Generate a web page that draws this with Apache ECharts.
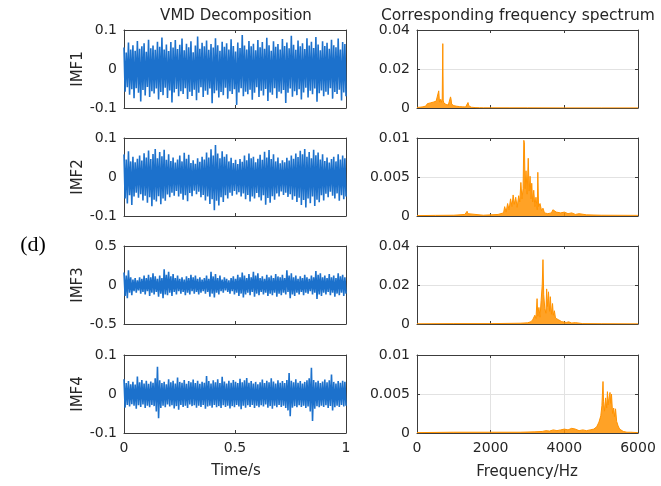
<!DOCTYPE html>
<html>
<head>
<meta charset="utf-8">
<script src="https://cdn.jsdelivr.net/npm/echarts@6/dist/echarts.min.js"></script>
<style>
  html, body { margin: 0; padding: 0; background: #fff; }
  #chart { width: 661px; height: 486px; }
</style>
</head>
<body>
<div id="chart"></div>
<script>
// IMF signals: upper / lower envelope (interleaved to draw the dense trace)
var imf1Up = [0.055,0.042,0.068,0.05,0.061,0.047,0.072,0.052,0.058,0.066,0.044,0.075,0.053,0.06,0.049,0.07,0.057,0.081,0.05,0.063,0.046,0.069,0.055,0.074,0.051,0.062,0.078,0.048,0.065,0.056,0.071,0.043,0.06,0.083,0.052,0.067,0.058,0.073,0.049,0.064,0.055,0.079,0.061,0.047,0.07,0.057,0.066,0.05,0.076,0.059,0.045,0.068,0.054,0.087,0.06,0.05,0.072,0.058,0.065,0.048,0.074,0.056,0.069,0.052,0.08,0.061,0.047,0.071,0.057,0.064,0.05,0.077,0.059,0.068,0.053,0.085,0.062,0.049,0.073,0.058,0.066,0.051,0.079,0.06,0.07,0.054,0.082,0.063,0.048,0.071,0.059,0.067,0.052,0.075,0.061,0.056,0.078,0.05,0.069,0.064];
var imf1Lo = [-0.058,-0.047,-0.066,-0.052,-0.075,-0.049,-0.061,-0.083,-0.054,-0.068,-0.046,-0.072,-0.057,-0.063,-0.05,-0.078,-0.059,-0.067,-0.048,-0.074,-0.055,-0.086,-0.06,-0.051,-0.07,-0.057,-0.064,-0.049,-0.077,-0.058,-0.069,-0.053,-0.08,-0.061,-0.047,-0.072,-0.056,-0.066,-0.05,-0.088,-0.062,-0.055,-0.073,-0.059,-0.067,-0.048,-0.076,-0.057,-0.064,-0.052,-0.092,-0.06,-0.049,-0.07,-0.058,-0.065,-0.053,-0.079,-0.061,-0.047,-0.072,-0.056,-0.068,-0.051,-0.082,-0.06,-0.066,-0.049,-0.075,-0.058,-0.063,-0.054,-0.087,-0.061,-0.05,-0.071,-0.057,-0.067,-0.052,-0.078,-0.06,-0.048,-0.073,-0.056,-0.065,-0.05,-0.084,-0.062,-0.055,-0.07,-0.058,-0.066,-0.049,-0.076,-0.059,-0.064,-0.053,-0.081,-0.06,-0.07];

var imf2Up = [0.058,0.045,0.066,0.04,0.052,0.038,0.047,0.055,0.042,0.061,0.05,0.068,0.046,0.059,0.072,0.048,0.064,0.053,0.07,0.044,0.058,0.041,0.05,0.037,0.045,0.055,0.04,0.062,0.047,0.057,0.036,0.043,0.034,0.048,0.039,0.052,0.045,0.063,0.05,0.071,0.055,0.082,0.06,0.048,0.066,0.052,0.058,0.04,0.049,0.036,0.044,0.033,0.046,0.039,0.055,0.043,0.06,0.048,0.052,0.038,0.047,0.057,0.044,0.065,0.05,0.069,0.046,0.058,0.04,0.05,0.035,0.043,0.038,0.049,0.042,0.055,0.047,0.06,0.051,0.067,0.058,0.072,0.052,0.064,0.048,0.07,0.056,0.063,0.045,0.058,0.041,0.05,0.037,0.046,0.052,0.04,0.058,0.045,0.055,0.048];
var imf2Lo = [-0.055,-0.068,-0.047,-0.072,-0.05,-0.04,-0.053,-0.044,-0.06,-0.048,-0.066,-0.052,-0.075,-0.058,-0.063,-0.049,-0.07,-0.055,-0.061,-0.045,-0.052,-0.04,-0.048,-0.036,-0.05,-0.043,-0.058,-0.047,-0.062,-0.041,-0.049,-0.035,-0.044,-0.038,-0.052,-0.046,-0.06,-0.05,-0.069,-0.057,-0.085,-0.061,-0.073,-0.052,-0.064,-0.047,-0.055,-0.04,-0.048,-0.036,-0.045,-0.039,-0.05,-0.042,-0.057,-0.046,-0.063,-0.05,-0.055,-0.041,-0.052,-0.06,-0.047,-0.071,-0.054,-0.066,-0.049,-0.058,-0.042,-0.05,-0.037,-0.046,-0.04,-0.051,-0.044,-0.058,-0.049,-0.064,-0.053,-0.072,-0.059,-0.078,-0.055,-0.067,-0.05,-0.074,-0.058,-0.065,-0.047,-0.06,-0.043,-0.052,-0.038,-0.048,-0.055,-0.042,-0.061,-0.047,-0.057,-0.05];

var imf3Up = [0.16,0.12,0.19,0.1,0.07,0.09,0.06,0.1,0.08,0.12,0.09,0.13,0.1,0.15,0.11,0.08,0.12,0.09,0.2,0.13,0.17,0.11,0.14,0.09,0.12,0.08,0.1,0.07,0.11,0.09,0.13,0.1,0.12,0.08,0.1,0.07,0.09,0.12,0.08,0.17,0.11,0.14,0.09,0.12,0.07,0.1,0.08,0.06,0.09,0.11,0.08,0.13,0.1,0.16,0.12,0.09,0.14,0.1,0.17,0.12,0.15,0.09,0.11,0.08,0.13,0.1,0.12,0.09,0.14,0.11,0.1,0.13,0.09,0.19,0.12,0.15,0.1,0.12,0.08,0.11,0.09,0.13,0.1,0.08,0.12,0.1,0.18,0.13,0.15,0.1,0.12,0.09,0.14,0.1,0.12,0.09,0.15,0.11,0.13,0.1];
var imf3Lo = [-0.14,-0.17,-0.1,-0.13,-0.08,-0.1,-0.07,-0.11,-0.09,-0.12,-0.08,-0.14,-0.1,-0.12,-0.09,-0.15,-0.11,-0.17,-0.12,-0.13,-0.1,-0.14,-0.09,-0.12,-0.08,-0.11,-0.09,-0.13,-0.1,-0.12,-0.08,-0.11,-0.09,-0.12,-0.1,-0.08,-0.11,-0.09,-0.15,-0.11,-0.16,-0.1,-0.12,-0.08,-0.1,-0.07,-0.09,-0.11,-0.08,-0.12,-0.1,-0.14,-0.11,-0.16,-0.12,-0.1,-0.13,-0.09,-0.15,-0.11,-0.13,-0.09,-0.12,-0.1,-0.14,-0.11,-0.13,-0.1,-0.15,-0.11,-0.13,-0.1,-0.12,-0.09,-0.17,-0.12,-0.14,-0.1,-0.12,-0.09,-0.13,-0.1,-0.11,-0.08,-0.12,-0.1,-0.18,-0.12,-0.14,-0.1,-0.12,-0.09,-0.13,-0.1,-0.15,-0.11,-0.13,-0.1,-0.14,-0.11];

var imf4Up = [0.038,0.028,0.033,0.025,0.031,0.024,0.045,0.03,0.036,0.027,0.034,0.026,0.032,0.029,0.04,0.07,0.035,0.028,0.031,0.025,0.038,0.03,0.034,0.027,0.042,0.031,0.029,0.036,0.026,0.033,0.03,0.037,0.028,0.034,0.026,0.031,0.029,0.046,0.033,0.027,0.035,0.03,0.038,0.028,0.044,0.032,0.027,0.034,0.029,0.036,0.031,0.028,0.039,0.03,0.035,0.041,0.029,0.033,0.027,0.031,0.025,0.03,0.037,0.028,0.034,0.03,0.04,0.032,0.027,0.035,0.029,0.033,0.028,0.036,0.054,0.034,0.03,0.038,0.029,0.033,0.027,0.031,0.035,0.04,0.067,0.036,0.03,0.034,0.028,0.032,0.037,0.03,0.035,0.05,0.031,0.027,0.033,0.029,0.034,0.031];
var imf4Lo = [-0.035,-0.028,-0.032,-0.026,-0.03,-0.038,-0.029,-0.033,-0.027,-0.036,-0.03,-0.034,-0.028,-0.031,-0.045,-0.062,-0.036,-0.03,-0.034,-0.027,-0.032,-0.029,-0.037,-0.031,-0.04,-0.028,-0.033,-0.03,-0.036,-0.027,-0.031,-0.029,-0.035,-0.03,-0.033,-0.028,-0.038,-0.032,-0.03,-0.035,-0.028,-0.034,-0.031,-0.036,-0.029,-0.033,-0.03,-0.037,-0.031,-0.034,-0.028,-0.032,-0.039,-0.03,-0.035,-0.029,-0.033,-0.028,-0.036,-0.03,-0.034,-0.029,-0.032,-0.027,-0.035,-0.031,-0.038,-0.03,-0.034,-0.028,-0.033,-0.03,-0.036,-0.042,-0.057,-0.035,-0.031,-0.034,-0.029,-0.033,-0.03,-0.036,-0.032,-0.045,-0.069,-0.038,-0.031,-0.034,-0.03,-0.033,-0.029,-0.036,-0.031,-0.042,-0.034,-0.03,-0.033,-0.028,-0.032,-0.03];

// spectra: frequency (Hz) and amplitude
var spec1Freq = [0,40,80,120,160,200,240,280,320,360,400,440,480,520,560,590,610,630,660,685,700,712,730,760,790,820,850,880,910,925,940,970,1000,1040,1080,1120,1160,1200,1240,1280,1320,1360,1385,1405,1430,1470,1520,1600,1700,1800,2000,2500,3000,4000,5000,6000];
var spec1Amp = [0.0003,0.0008,0.0004,0.0012,0.0006,0.0015,0.001,0.0022,0.0014,0.0026,0.0018,0.003,0.002,0.0035,0.0025,0.0088,0.003,0.0045,0.0028,0.005,0.033,0.004,0.0025,0.0034,0.0018,0.0026,0.0015,0.0022,0.0057,0.0045,0.002,0.0028,0.0012,0.0018,0.0009,0.0014,0.0007,0.0011,0.0006,0.0009,0.0005,0.0008,0.0028,0.0012,0.0006,0.0004,0.0003,0.0002,0.00015,0.0001,0.0001,0.00008,0.00008,0.00006,0.00005,0.00005];

var spec2Freq = [0,500,1000,1300,1340,1360,1380,1420,1800,2200,2350,2380,2420,2460,2500,2540,2580,2610,2640,2680,2720,2760,2790,2820,2850,2880,2900,2915,2935,2960,2990,3020,3045,3070,3095,3115,3140,3170,3200,3230,3265,3280,3300,3340,3380,3420,3460,3500,3550,3600,3650,3690,3730,3780,3830,3900,4000,4100,4200,4300,4400,4600,5000,6000];
var spec2Amp = [0.00005,0.00008,0.0001,0.0002,0.0004,0.0006,0.0003,0.00015,0.0001,0.0002,0.0004,0.0012,0.0005,0.0016,0.0008,0.0022,0.0012,0.0027,0.0015,0.0024,0.0011,0.0026,0.0018,0.0043,0.0022,0.0035,0.0097,0.0094,0.0035,0.0058,0.0028,0.0074,0.0032,0.0051,0.0022,0.0042,0.0018,0.0033,0.0012,0.0024,0.0008,0.0056,0.0012,0.0016,0.0007,0.001,0.0004,0.0006,0.0003,0.0005,0.0004,0.0008,0.0009,0.0005,0.0006,0.0004,0.0005,0.0003,0.0004,0.0002,0.0003,0.00015,0.0001,0.00008];

var spec3Freq = [0,1000,2000,2800,3000,3100,3150,3200,3230,3260,3280,3310,3340,3370,3400,3420,3440,3470,3500,3520,3540,3570,3600,3620,3650,3680,3700,3730,3760,3800,3840,3880,3930,3980,4050,4120,4200,4300,4500,5000,6000];
var spec3Amp = [0.0001,0.0002,0.0002,0.0004,0.0006,0.0012,0.0025,0.0045,0.0028,0.013,0.004,0.0085,0.0035,0.012,0.02,0.033,0.015,0.008,0.0055,0.018,0.009,0.0165,0.0065,0.014,0.005,0.0105,0.0045,0.0068,0.003,0.0035,0.0022,0.0026,0.0012,0.0018,0.0008,0.0011,0.0005,0.0007,0.0002,0.00015,0.0001];

var spec4Freq = [0,1000,2000,2800,3200,3400,3500,3600,3700,3800,3900,4000,4100,4200,4300,4400,4500,4600,4700,4800,4880,4940,4990,5020,5050,5065,5090,5120,5150,5170,5190,5210,5240,5260,5280,5310,5340,5360,5390,5420,5460,5500,5550,5600,5700,5800,6000];
var spec4Amp = [0.00005,0.0001,0.0001,0.0001,0.00015,0.0002,0.0003,0.00025,0.0004,0.0003,0.0004,0.0005,0.0004,0.0006,0.0005,0.0003,0.0004,0.0003,0.0004,0.0005,0.0008,0.0014,0.0022,0.0035,0.0066,0.004,0.0028,0.0045,0.0032,0.0053,0.0036,0.0044,0.0052,0.0038,0.005,0.0025,0.0032,0.0021,0.0031,0.0015,0.0009,0.0005,0.0003,0.0002,0.0001,0.0001,0.00005];

var imfNames = ["IMF1", "IMF2", "IMF3", "IMF4"];
var imfRange = [0.1, 0.1, 0.5, 0.1];
var specMax = [0.04, 0.01, 0.04, 0.01];
var timeTicks = [0, 0.5, 1];
var freqTicks = [0, 2000, 4000, 6000];

var signals = [[imf1Up, imf1Lo], [imf2Up, imf2Lo], [imf3Up, imf3Lo], [imf4Up, imf4Lo]];
var spectra = [[spec1Freq, spec1Amp], [spec2Freq, spec2Amp], [spec3Freq, spec3Amp], [spec4Freq, spec4Amp]];

var rowTops = [30, 138, 246, 355];
var textColor = "#262626";
var boxColor = "#3c3c3c";
var font = "'DejaVu Sans', Verdana, sans-serif";

function traceData(up, lo) {
  var vals = [];
  for (var i = 0; i < up.length; i++) {
    vals.push(up[i]);
    vals.push(lo[i]);
  }
  var n = vals.length;
  return vals.map(function (v, i) { return [i / (n - 1), v]; });
}

function specData(f, a) {
  return f.map(function (x, i) { return [x, a[i]]; });
}

function plainNum(v) { return String(v); }

var grids = [], xAxes = [], yAxes = [], series = [];

for (var r = 0; r < 4; r++) {
  var cols = [
    { left: 124, width: 222, min: 0, max: 1, interval: timeTicks[1] - timeTicks[0],
      ymin: -imfRange[r], ymax: imfRange[r], yint: imfRange[r], name: imfNames[r], split: false, vsplit: false },
    { left: 417, width: 221, min: 0, max: 6000, interval: freqTicks[1] - freqTicks[0],
      ymin: 0, ymax: specMax[r], yint: specMax[r] / 2, name: "", split: true, vsplit: r === 3 }
  ];
  for (var c = 0; c < 2; c++) {
    var cfg = cols[c];
    var g = grids.length;
    grids.push({ left: cfg.left, top: rowTops[r], width: cfg.width, height: 78 });

    // bottom / top x axes
    xAxes.push({
      gridIndex: g, type: "value", min: cfg.min, max: cfg.max, interval: cfg.interval,
      axisLine: { show: true, onZero: false, lineStyle: { color: boxColor, width: 1 } },
      axisTick: { show: true, inside: true, length: 3, lineStyle: { color: boxColor } },
      axisLabel: { show: r === 3, color: textColor, fontSize: 14, fontFamily: font, margin: 8, formatter: plainNum },
      splitLine: { show: cfg.vsplit, lineStyle: { color: "#e2e2e2", width: 1 } }
    });
    xAxes.push({
      gridIndex: g, type: "value", position: "top", min: cfg.min, max: cfg.max, interval: cfg.interval,
      axisLine: { show: true, onZero: false, lineStyle: { color: boxColor, width: 1 } },
      axisTick: { show: true, inside: true, length: 3, lineStyle: { color: boxColor } },
      axisLabel: { show: false }, splitLine: { show: false }
    });

    // left / right y axes
    yAxes.push({
      gridIndex: g, type: "value", min: cfg.ymin, max: cfg.ymax, interval: cfg.yint,
      name: cfg.name, nameLocation: "middle", nameGap: 38,
      nameTextStyle: { color: textColor, fontSize: 15, fontFamily: font },
      axisLine: { show: true, onZero: false, lineStyle: { color: boxColor, width: 1 } },
      axisTick: { show: true, inside: true, length: 3, lineStyle: { color: boxColor } },
      axisLabel: { color: textColor, fontSize: 14, fontFamily: font, margin: 7 },
      splitLine: { show: cfg.split, lineStyle: { color: "#e2e2e2", width: 1 } }
    });
    yAxes.push({
      gridIndex: g, type: "value", position: "right", min: cfg.ymin, max: cfg.ymax, interval: cfg.yint,
      axisLine: { show: true, onZero: false, lineStyle: { color: boxColor, width: 1 } },
      axisTick: { show: true, inside: true, length: 3, lineStyle: { color: boxColor } },
      axisLabel: { show: false }, splitLine: { show: false }
    });

    if (c === 0) {
      series.push({
        type: "line", xAxisIndex: 2 * g, yAxisIndex: 2 * g,
        data: traceData(signals[r][0], signals[r][1]),
        showSymbol: false, symbol: "none", silent: true,
        lineStyle: { color: "#1c71cc", width: 1.6 }, z: 3
      });
    } else {
      series.push({
        type: "line", xAxisIndex: 2 * g, yAxisIndex: 2 * g,
        data: specData(spectra[r][0], spectra[r][1]),
        showSymbol: false, symbol: "none", silent: true,
        lineStyle: { color: "#ff9200", width: 1 },
        areaStyle: { color: "#ff9200", opacity: 0.85 },
        z: 3
      });
    }
  }
}

function label(x, y, text, size, family, color) {
  return {
    type: "text", x: x, y: y, silent: true,
    style: { text: text, fill: color || textColor, font: size + "px " + (family || font),
             align: "center", verticalAlign: "middle" }
  };
}

var chart = echarts.init(document.getElementById("chart"), null, { renderer: "canvas" });
chart.setOption({
  animation: false,
  backgroundColor: "#ffffff",
  grid: grids,
  xAxis: xAxes,
  yAxis: yAxes,
  series: series,
  graphic: [
    label(236, 16, "VMD Decomposition", 15),
    label(518, 16, "Corresponding frequency spectrum", 15.5),
    label(236, 471, "Time/s", 15),
    label(527, 472, "Frequency/Hz", 15),
    label(33, 245, "(d)", 22, "'Liberation Serif', 'Times New Roman', serif", "#000")
  ]
});
</script>
</body>
</html>
